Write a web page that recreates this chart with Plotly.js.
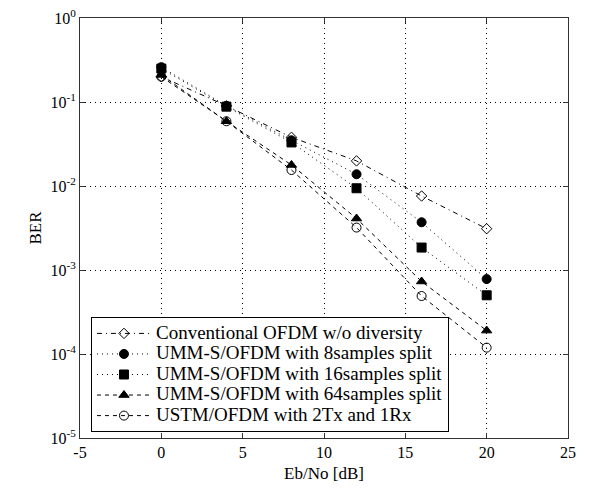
<!DOCTYPE html>
<html><head><meta charset="utf-8">
<script src="https://cdn.plot.ly/plotly-3.0.1.min.js"></script>
<style>html,body{margin:0;padding:0;background:#fff}#chart{width:598px;height:494px}</style>
</head><body><div id="chart"></div>
<script>
const ebno = [0, 4, 8, 12, 16, 20];
const names = [
  "Conventional OFDM w/o diversity",
  "UMM-S/OFDM with 8samples split",
  "UMM-S/OFDM with 16samples split",
  "UMM-S/OFDM with 64samples split",
  "USTM/OFDM with 2Tx and 1Rx"
];
const berConv = [0.20, 0.090, 0.038, 0.0199, 0.0076, 0.0031];
const ber8 = [0.26, 0.090, 0.035, 0.0138, 0.0037, 0.00078];
const ber16 = [0.25, 0.088, 0.033, 0.0094, 0.00185, 0.00050];
const ber64 = [0.21, 0.059, 0.0178, 0.0041, 0.00073, 0.00019];
const berUstm = [0.20, 0.059, 0.0155, 0.0032, 0.00049, 0.000119];
const xTicks = [-5, 0, 5, 10, 15, 20, 25];
const yTickVals = [1, 0.1, 0.01, 0.001, 0.0001, 0.00001];
const yTickText = ["10<sup>0</sup>", "10<sup>-1</sup>", "10<sup>-2</sup>", "10<sup>-3</sup>", "10<sup>-4</sup>", "10<sup>-5</sup>"];

const series = [berConv, ber8, ber16, ber64, berUstm];
const symbols = ["diamond-open", "circle", "square", "triangle-up", "circle-open"];
const sizes = [8, 9, 9, 9, 9];
const dashes = ["5px,4px,1px,4px", "1px,4px", "1px,4px", "4px,4px", "4px,4px"];

const traces = series.map((s, i) => ({
  x: ebno, y: s, name: '<span style="font-size:19px">' + names[i] + '</span>',
  type: "scatter", mode: "lines+markers",
  line: {color: "#000", width: 1, dash: dashes[i]},
  marker: {symbol: symbols[i], size: sizes[i], color: "#000", line: {color: "#000", width: 1}}
}));

const fam = "Liberation Serif";
const layout = {
  width: 598, height: 494,
  margin: {l: 80, r: 30, t: 18, b: 56},
  paper_bgcolor: "#fff", plot_bgcolor: "#fff",
  font: {family: fam, color: "#000", size: 15},
  showlegend: true,
  legend: {x: 0.0225, y: 0.014, xanchor: "left", yanchor: "bottom",
    bordercolor: "#000", borderwidth: 1, bgcolor: "#fff",
    itemwidth: 54,
    font: {family: fam, size: 13.5, color: "#000"}, tracegroupgap: 0},
  xaxis: {
    range: [-5, 25], tickvals: xTicks, ticktext: xTicks.map(String),
    ticks: "inside", ticklen: 5, tickcolor: "#333", mirror: "ticks",
    showline: true, linecolor: "#333", linewidth: 1,
    showgrid: true, gridcolor: "#000", gridwidth: 1, griddash: "1px,4px",
    zeroline: false, tickfont: {family: fam, size: 16},
    title: {text: "Eb/No [dB]", font: {family: fam, size: 17}, standoff: 6}
  },
  yaxis: {
    type: "log", range: [-5, 0], tickvals: yTickVals, ticktext: yTickText,
    ticks: "inside", ticklen: 5, tickcolor: "#333", mirror: "ticks",
    showline: true, linecolor: "#333", linewidth: 1,
    showgrid: true, gridcolor: "#000", gridwidth: 1, griddash: "1px,4px",
    zeroline: false, tickfont: {family: fam, size: 16},
    title: {text: "BER", font: {family: fam, size: 17}, standoff: 4}
  }
};
Plotly.newPlot("chart", traces, layout, {displayModeBar: false, staticPlot: true});
</script></body></html>
